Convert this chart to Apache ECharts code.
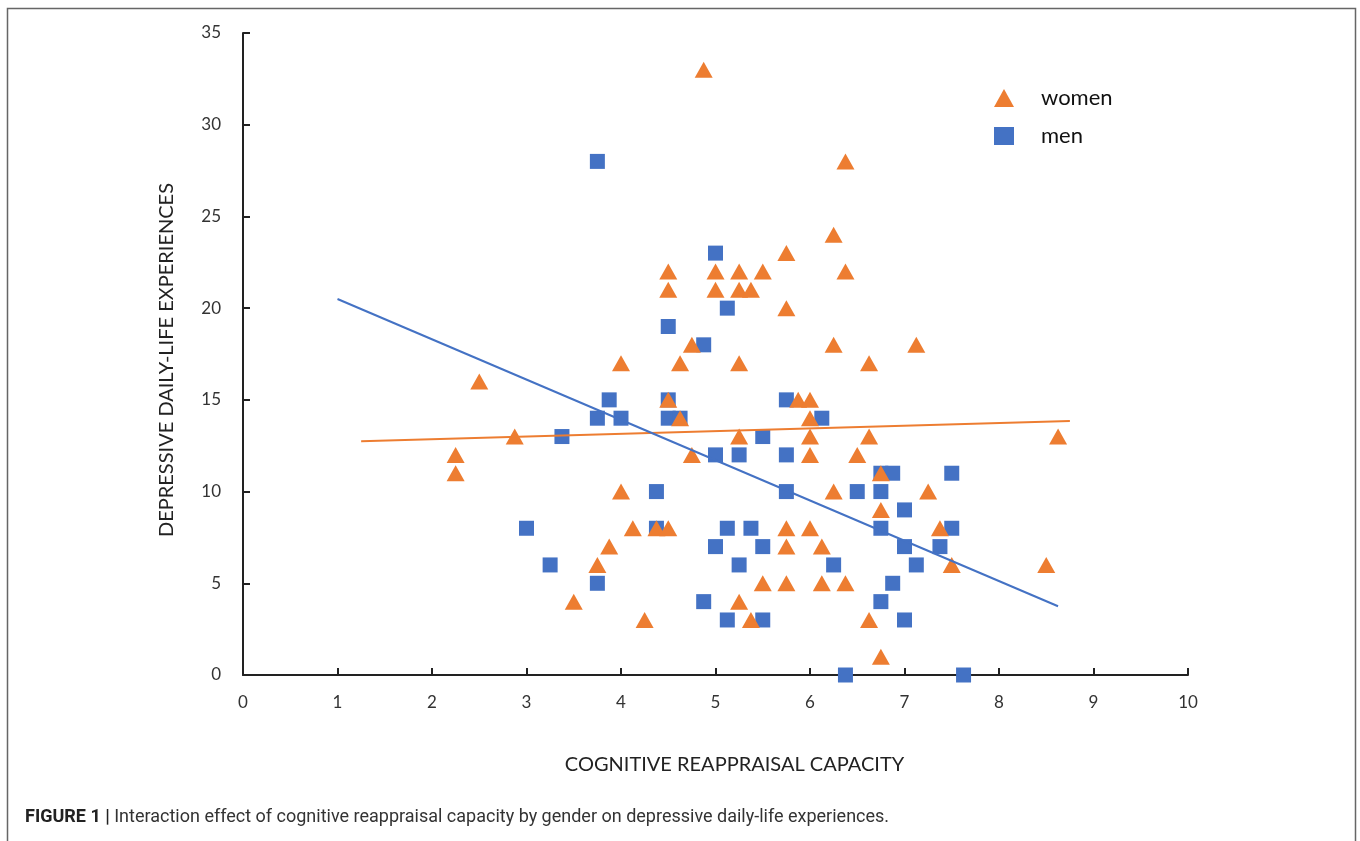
<!DOCTYPE html>
<html>
<head>
<meta charset="utf-8">
<script src="https://cdn.jsdelivr.net/npm/echarts@6/dist/echarts.min.js"></script>
<style>
html,body{margin:0;padding:0;background:#fff;}
#chart{width:1360px;height:841px;}
</style>
</head>
<body>
<div id="chart"></div>
<script>
// Data
const womenX = [2.25,2.25,2.5,2.875,3.5,3.75,3.875,4,4,4.125,4.25,4.375,4.5,4.5,4.5,4.5,4.625,4.625,4.75,4.75,4.875,5,5,5.25,5.25,5.25,5.25,5.25,5.375,5.375,5.5,5.5,5.75,5.75,5.75,5.75,5.75,5.875,6,6,6,6,6,6.125,6.125,6.25,6.25,6.25,6.375,6.375,6.375,6.5,6.625,6.625,6.625,6.75,6.75,6.75,7.125,7.25,7.375,7.5,8.5,8.625];
const womenY = [12,11,16,13,4,6,7,17,10,8,3,8,8,22,21,15,17,14,12,18,33,22,21,22,21,17,13,4,21,3,22,5,23,20,8,7,5,15,15,14,13,12,8,7,5,24,18,10,28,22,5,12,17,13,3,11,9,1,18,10,8,6,6,13];
const menX = [3,3.25,3.375,3.75,3.75,3.75,3.875,4,4.375,4.375,4.5,4.5,4.5,4.625,4.875,4.875,5,5,5,5.125,5.125,5.125,5.25,5.25,5.375,5.5,5.5,5.5,5.75,5.75,5.75,6.125,6.25,6.375,6.5,6.75,6.75,6.75,6.75,6.875,6.875,7,7,7,7.125,7.375,7.5,7.5,7.625];
const menY = [8,6,13,28,14,5,15,14,10,8,19,15,14,14,18,4,23,12,7,20,8,3,12,6,8,13,7,3,15,12,10,14,6,0,10,11,10,8,4,11,5,9,7,3,6,7,11,8,0];
const womenTrendX = [1.25, 8.75];
const womenTrendY = [12.75, 13.85];
const menTrendX = [1, 8.625];
const menTrendY = [20.5, 3.75];
const xTicks = [0,1,2,3,4,5,6,7,8,9,10];
const yTicks = [0,5,10,15,20,25,30,35];

const zip = (xs, ys) => xs.map((x, i) => [x, ys[i]]);
const ORANGE = '#ED7D31', BLUE = '#4472C4';
const FONT = 'Lato, "Open Sans", sans-serif';

const chart = echarts.init(document.getElementById('chart'));
chart.setOption({
  backgroundColor: '#fff',
  animation: false,
  grid: {left: 243, right: 172, top: 33, bottom: 166, containLabel: false},
  legend: {
    data: ['women', 'men'],
    orient: 'vertical',
    left: 989, top: 82,
    itemWidth: 20, itemHeight: 18, itemGap: 16,
    textStyle: {fontFamily: FONT, fontSize: 22, color: '#111', padding: [0, 0, 0, 22]}
  },
  xAxis: {
    type: 'value', min: xTicks[0], max: xTicks[xTicks.length - 1], interval: 1,
    name: 'COGNITIVE REAPPRAISAL CAPACITY', nameLocation: 'middle', nameGap: 80,
    nameTextStyle: {fontFamily: FONT, fontSize: 20, color: '#222', padding: [0, 0, 0, 38]},
    axisLine: {show: true, lineStyle: {color: '#222', width: 2}},
    axisTick: {show: true, inside: true, length: 7, lineStyle: {color: '#222', width: 2}},
    axisLabel: {fontFamily: FONT, fontSize: 17, color: '#333', margin: 19},
    splitLine: {show: false}
  },
  yAxis: {
    type: 'value', min: yTicks[0], max: yTicks[yTicks.length - 1], interval: 5,
    name: 'DEPRESSIVE DAILY-LIFE EXPERIENCES', nameLocation: 'middle', nameGap: 66,
    nameRotate: 90,
    nameTextStyle: {fontFamily: FONT, fontSize: 20, color: '#222', padding: [0, 12, 0, 0]},
    axisLine: {show: true, lineStyle: {color: '#222', width: 2}},
    axisTick: {show: true, inside: true, length: 7, lineStyle: {color: '#222', width: 2}},
    axisLabel: {fontFamily: FONT, fontSize: 17, color: '#333', margin: 22},
    splitLine: {show: false}
  },
  series: [
    {
      name: 'men', type: 'scatter', symbol: 'rect', symbolSize: 15,
      itemStyle: {color: BLUE, opacity: 1}, data: zip(menX, menY), z: 3
    },
    {
      name: 'women', type: 'scatter', symbol: 'triangle', symbolSize: [18, 16],
      itemStyle: {color: ORANGE, opacity: 1}, data: zip(womenX, womenY), z: 4
    },
    {
      type: 'line', data: zip(womenTrendX, womenTrendY), symbol: 'none',
      lineStyle: {color: ORANGE, width: 2}, z: 5, silent: true
    },
    {
      type: 'line', data: zip(menTrendX, menTrendY), symbol: 'none',
      lineStyle: {color: BLUE, width: 2}, z: 5, silent: true
    }
  ],
  graphic: [
    {
      type: 'rect', z: 0, silent: true,
      shape: {x: 7.5, y: 8.5, width: 1348, height: 860},
      style: {fill: null, stroke: '#666', lineWidth: 1.5}
    },
    {
      type: 'text', left: 25, top: 808, silent: true,
      style: {
        text: '{b|FIGURE 1} {b|| }Interaction effect of cognitive reappraisal capacity by gender on depressive daily-life experiences.',
        fontFamily: 'Roboto, sans-serif', fontSize: 18, fill: '#333',
        rich: {b: {fontWeight: 'bold', fontFamily: 'Roboto, sans-serif', fontSize: 18, fill: '#222'}}
      }
    }
  ]
});
</script>
</body>
</html>
